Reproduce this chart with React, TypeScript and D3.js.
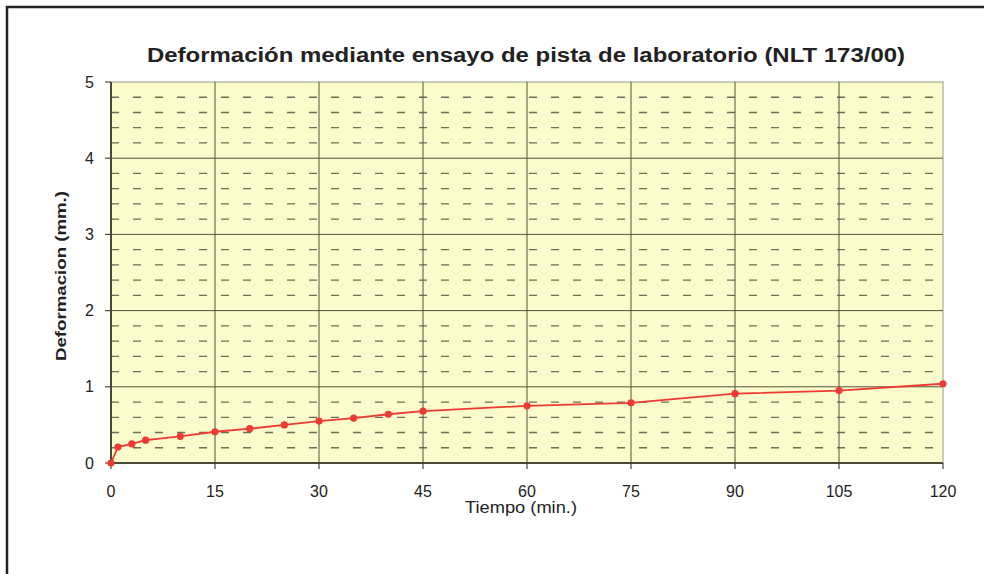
import React, { useEffect, useRef } from "react";
import { select, scaleLinear, line, range } from "d3";

const tiempo: number[] = [0, 1, 3, 5, 10, 15, 20, 25, 30, 35, 40, 45, 60, 75, 90, 105, 120];
const deformacion: number[] = [0.0, 0.21, 0.25, 0.3, 0.35, 0.41, 0.45, 0.5, 0.55, 0.59, 0.64, 0.68, 0.75, 0.79, 0.91, 0.95, 1.04];
const xTicks: number[] = [0, 15, 30, 45, 60, 75, 90, 105, 120];
const yTicks: number[] = [0, 1, 2, 3, 4, 5];
const title = "Deformación mediante ensayo de pista de laboratorio (NLT 173/00)";
const xTitle = "Tiempo (min.)";
const yTitle = "Deformacion (mm.)";

const WIDTH = 984;
const HEIGHT = 574;
const plot = { left: 111, right: 943, top: 82, bottom: 463 };
const FONT = "Liberation Sans, Arial, sans-serif";

const App: React.FC = () => {
  const svgRef = useRef<SVGSVGElement>(null);

  useEffect(() => {
    const svg = select(svgRef.current);
    svg.selectAll("*").remove();

    const x = scaleLinear().domain([0, 120]).range([plot.left, plot.right]);
    const y = scaleLinear().domain([0, 5]).range([plot.bottom, plot.top]);

    svg.append("rect").attr("width", WIDTH).attr("height", HEIGHT).attr("fill", "white");

    // outer frame of the scanned page
    svg
      .append("rect")
      .attr("x", 7)
      .attr("y", 7)
      .attr("width", WIDTH + 20)
      .attr("height", HEIGHT + 20)
      .attr("fill", "none")
      .attr("stroke", "#222")
      .attr("stroke-width", 2.5);

    svg
      .append("text")
      .attr("x", 526)
      .attr("y", 62)
      .attr("text-anchor", "middle")
      .attr("font-family", FONT)
      .attr("font-weight", "bold")
      .attr("font-size", 20)
      .attr("textLength", 758)
      .attr("lengthAdjust", "spacingAndGlyphs")
      .attr("fill", "#222")
      .text(title);

    // plot background
    svg
      .append("rect")
      .attr("x", plot.left)
      .attr("y", plot.top)
      .attr("width", plot.right - plot.left)
      .attr("height", plot.bottom - plot.top)
      .attr("fill", "#fbfbcc")
      .attr("stroke", "#9a9a88")
      .attr("stroke-width", 1);

    // minor dashed lines
    const minor = range(0.2, 5, 0.2).filter((v) => Math.abs(v - Math.round(v)) > 0.01);
    svg
      .append("g")
      .selectAll("line")
      .data(minor)
      .join("line")
      .attr("x1", plot.left)
      .attr("x2", plot.right)
      .attr("y1", (d) => y(d))
      .attr("y2", (d) => y(d))
      .attr("stroke", "#6e6e58")
      .attr("stroke-width", 1.3)
      .attr("stroke-dasharray", "8,14");

    // major grid
    svg
      .append("g")
      .selectAll("line")
      .data(yTicks.slice(1, -1))
      .join("line")
      .attr("x1", plot.left)
      .attr("x2", plot.right)
      .attr("y1", (d) => y(d))
      .attr("y2", (d) => y(d))
      .attr("stroke", "#55553c")
      .attr("stroke-width", 1);
    svg
      .append("g")
      .selectAll("line")
      .data(xTicks.slice(1, -1))
      .join("line")
      .attr("x1", (d) => x(d))
      .attr("x2", (d) => x(d))
      .attr("y1", plot.top)
      .attr("y2", plot.bottom)
      .attr("stroke", "#55553c")
      .attr("stroke-width", 1);

    // axes lines
    svg
      .append("line")
      .attr("x1", plot.left)
      .attr("x2", plot.left)
      .attr("y1", plot.top)
      .attr("y2", plot.bottom)
      .attr("stroke", "#4a4a38")
      .attr("stroke-width", 2);
    svg
      .append("line")
      .attr("x1", plot.left)
      .attr("x2", plot.right)
      .attr("y1", plot.bottom)
      .attr("y2", plot.bottom)
      .attr("stroke", "#4a4a38")
      .attr("stroke-width", 2);

    // ticks
    svg
      .append("g")
      .selectAll("line")
      .data(yTicks)
      .join("line")
      .attr("x1", plot.left - 6)
      .attr("x2", plot.left)
      .attr("y1", (d) => y(d))
      .attr("y2", (d) => y(d))
      .attr("stroke", "#4a4a38")
      .attr("stroke-width", 1.2);
    svg
      .append("g")
      .selectAll("line")
      .data(xTicks)
      .join("line")
      .attr("x1", (d) => x(d))
      .attr("x2", (d) => x(d))
      .attr("y1", plot.bottom)
      .attr("y2", plot.bottom + 6)
      .attr("stroke", "#4a4a38")
      .attr("stroke-width", 1.2);

    svg
      .append("g")
      .selectAll("text")
      .data(yTicks)
      .join("text")
      .attr("x", plot.left - 17)
      .attr("y", (d) => y(d) + 5.5)
      .attr("text-anchor", "end")
      .attr("font-family", FONT)
      .attr("font-size", 16)
      .attr("fill", "#222")
      .text((d) => d);
    svg
      .append("g")
      .selectAll("text")
      .data(xTicks)
      .join("text")
      .attr("x", (d) => x(d))
      .attr("y", plot.bottom + 34)
      .attr("text-anchor", "middle")
      .attr("font-family", FONT)
      .attr("font-size", 16)
      .attr("fill", "#222")
      .text((d) => d);

    svg
      .append("text")
      .attr("x", 521)
      .attr("y", 513)
      .attr("text-anchor", "middle")
      .attr("font-family", FONT)
      .attr("font-size", 16)
      .attr("textLength", 112)
      .attr("lengthAdjust", "spacingAndGlyphs")
      .attr("fill", "#222")
      .text(xTitle);
    svg
      .append("text")
      .attr("transform", "translate(66,276) rotate(-90)")
      .attr("text-anchor", "middle")
      .attr("font-family", FONT)
      .attr("font-weight", "bold")
      .attr("font-size", 15)
      .attr("textLength", 170)
      .attr("lengthAdjust", "spacingAndGlyphs")
      .attr("fill", "#222")
      .text(yTitle);

    // series
    const pts = tiempo.map((t, i) => [t, deformacion[i]] as [number, number]);
    svg
      .append("path")
      .datum(pts)
      .attr("fill", "none")
      .attr("stroke", "#ee3a32")
      .attr("stroke-width", 1.8)
      .attr(
        "d",
        line<[number, number]>()
          .x((d) => x(d[0]))
          .y((d) => y(d[1]))
      );
    svg
      .append("g")
      .selectAll("circle")
      .data(pts)
      .join("circle")
      .attr("cx", (d) => x(d[0]))
      .attr("cy", (d) => y(d[1]))
      .attr("r", 3.6)
      .attr("fill", "#ee3a32");
  }, []);

  return (
    <svg
      ref={svgRef}
      width={WIDTH}
      height={HEIGHT}
      style={{ position: "absolute", left: 0, top: 0 }}
    />
  );
};

export default App;
